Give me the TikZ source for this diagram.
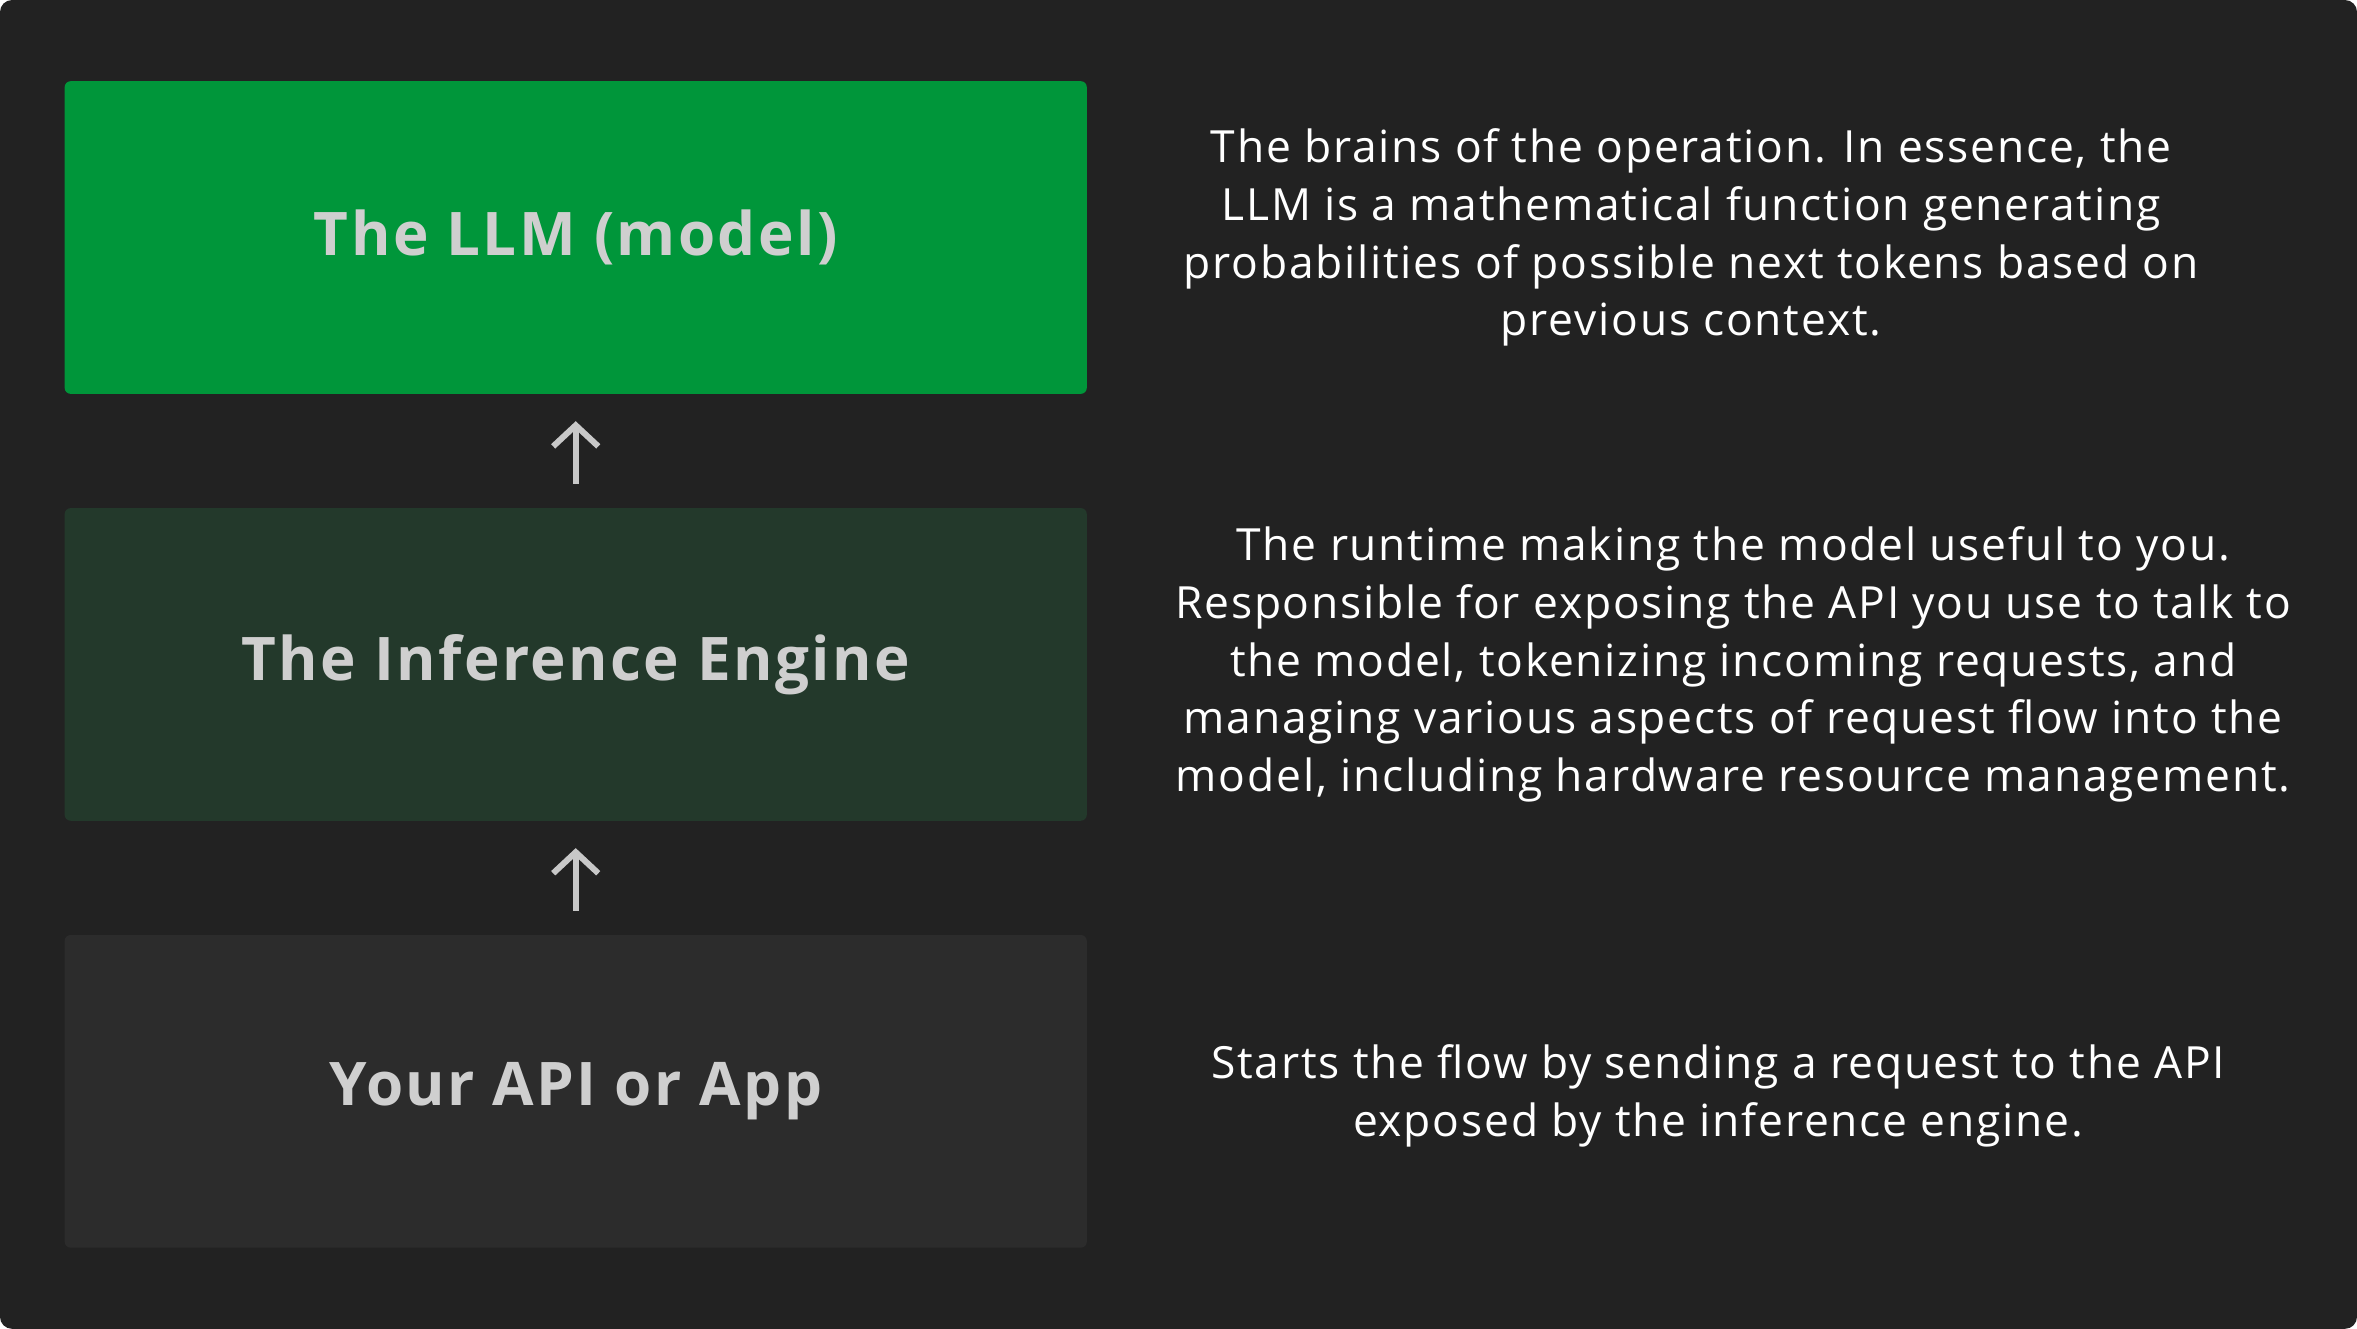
\documentclass[tikz,border=0pt]{standalone}
\usepackage{fontspec}
\setmainfont[LetterSpace=4]{Open Sans}
\usetikzlibrary{arrows.meta,calc}
\definecolor{bg}{HTML}{222222}
\definecolor{gA}{HTML}{00963A}
\definecolor{gB}{HTML}{23392B}
\definecolor{gC}{HTML}{2C2C2C}
\definecolor{tt}{HTML}{CFCFCF}
\definecolor{ar}{HTML}{C8C8C8}
\begin{document}
\begin{tikzpicture}[x=1pt,y=-1pt,
  box/.style={rounded corners=4pt,draw=none,minimum width=680pt,minimum height=208pt,inner sep=0pt,
    font=\bfseries\fontsize{40}{48}\selectfont,text=tt},
  desc/.style={align=center,text=white,font=\fontsize{29.5}{38.5}\selectfont,inner sep=0pt},
  arr/.style={draw=ar,line width=4pt,-{Straight Barb[length=14pt,width=30pt]}}]
\fill[bg,rounded corners=8pt] (0,0) rectangle (1568,884);
\useasboundingbox (0,0) rectangle (1568,884);
\node[box,fill=gA] (llm) at (383,158) {The LLM (model)};
\node[box,fill=gB] (eng) at (383,442) {The Inference Engine};
\node[box,fill=gC] (app) at (383,726) {Your API or App};
\draw[arr] ($(app.north)+(0,-16)$) -- ($(eng.south)+(0,18)$);
\draw[arr] ($(eng.north)+(0,-16)$) -- ($(llm.south)+(0,18)$);
\node[desc] (d1) at (1125,158) {The brains of the operation. In essence, the\\LLM is a mathematical function generating\\probabilities of possible next tokens based on\\previous context.};
\node[desc] (d2) at (1153,442) {The runtime making the model useful to you.\\Responsible for exposing the API you use to talk to\\the model, tokenizing incoming requests, and\\managing various aspects of request flow into the\\model, including hardware resource management.};
\node[desc] (d3) at (1143,729) {Starts the flow by sending a request to the API\\exposed by the inference engine.};
\end{tikzpicture}
\end{document}
